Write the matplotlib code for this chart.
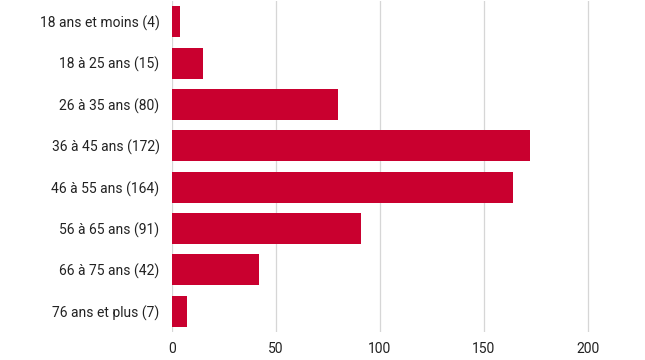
import matplotlib
matplotlib.use("Agg")
from matplotlib import pyplot as plt

labels = ["18 ans et moins (4)", "18 à 25 ans (15)", "26 à 35 ans (80)", "36 à 45 ans (172)",
          "46 à 55 ans (164)", "56 à 65 ans (91)", "66 à 75 ans (42)", "76 ans et plus (7)"]
values = [4, 15, 80, 172, 164, 91, 42, 7]
ticks = [0, 50, 100, 150, 200]

plt.rcParams['font.family'] = ['Roboto', 'DejaVu Sans']

fig = plt.figure(figsize=(6.45, 3.6), dpi=100)
ax = fig.add_axes([0.2667, 0.078, 0.693, 0.919])

y = list(range(len(values)))
ax.barh(y, values, height=0.75, color='#C9002F', zorder=3)

ax.set_xlim(0, 215)
ax.set_ylim(len(values) - 0.5, -0.5)
ax.set_yticks(y)
ax.set_yticklabels(labels, fontsize=10, color='#222222')
ax.set_xticks(ticks)
ax.set_xticklabels([str(t) for t in ticks], fontsize=10, color='#222222')
ax.tick_params(length=0)
ax.tick_params(axis='y', pad=9)
ax.tick_params(axis='x', pad=7)

ax.grid(axis='x', color='#d6d6d6', linewidth=0.9, zorder=0)
for s in ax.spines.values():
    s.set_visible(False)

fig.savefig("out.png", dpi=100)
